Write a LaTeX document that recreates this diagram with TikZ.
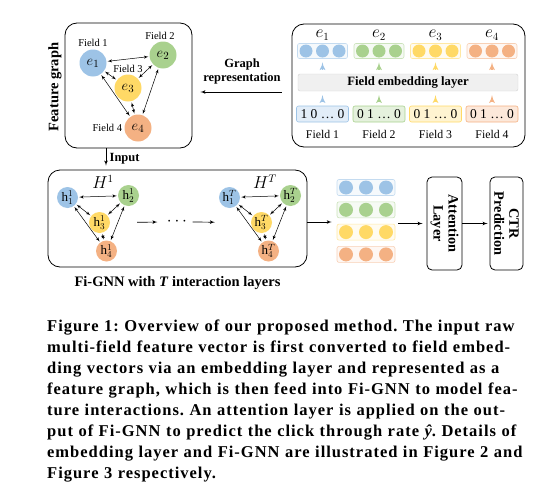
\documentclass[tikz,border=0pt]{standalone}
\usepackage{fontspec}
\setmainfont{Liberation Serif}
\newfontfamily\capfont{Liberation Serif}[LetterSpace=6]
\usetikzlibrary{positioning}
\usetikzlibrary{shapes, arrows}

\definecolor{fblue}{RGB}{157,195,230}
\definecolor{fgreen}{RGB}{169,209,142}
\definecolor{fyellow}{RGB}{255,217,102}
\definecolor{forange}{RGB}{244,177,131}

\begin{document}
\begin{tikzpicture}[x=1pt, y=-1pt, auto]
    \tikzstyle{panel} = [rectangle, draw, line width=0.8pt, rounded corners=12pt]
    \tikzstyle{field} = [circle, inner sep=0pt, minimum size=27pt, font=\fontsize{15}{15}\selectfont]
    \tikzstyle{hnode} = [circle, inner sep=0pt, minimum size=21pt, font=\fontsize{13}{13}\selectfont]
    \tikzstyle{ball} = [circle, inner sep=0pt, minimum size=13pt]
    \tikzstyle{vecbox} = [rectangle, draw, line width=0.6pt, rounded corners=2pt, minimum width=50pt, minimum height=15pt]
    \tikzstyle{onehot} = [rectangle, draw, line width=0.6pt, rounded corners=2pt, minimum width=52pt, minimum height=16pt, inner sep=0pt, font=\fontsize{13.5}{14}\selectfont]
    \tikzstyle{fieldname} = [inner sep=0pt, font=\fontsize{10.5}{10.5}\selectfont]
    \tikzstyle{heading} = [inner sep=0pt, align=center, font=\fontsize{14.5}{15}\selectfont\bfseries]
    \tikzstyle{stage} = [rectangle, draw, line width=0.8pt, rounded corners=5pt, align=center, inner sep=2pt, font=\fontsize{14.3}{15}\selectfont\bfseries]
    \tikzstyle{line} = [draw, -latex', line width=0.7pt]
    \tikzstyle{link} = [draw, latex'-latex', line width=0.5pt, shorten <=1pt, shorten >=1pt]
    \tikzstyle{feed} = [draw, -latex', line width=1.7pt]
    \useasboundingbox (0,0) rectangle (555,498);

    % feature graph
    \node [panel, minimum width=127pt, minimum height=125pt] (feat) at (128.5,85.5) {};
    \node [heading, rotate=90] (featname) at (55,87) {Feature graph};
    \node [field, fill=fblue] (e1) at (93,63) {$e_1$};
    \node [field, fill=fgreen] (e2) at (163,55) {$e_2$};
    \node [field, fill=fyellow] (e3) at (128,88) {$e_3$};
    \node [field, fill=forange] (e4) at (138,128) {$e_4$};
    \node [fieldname, above=2pt of e1] (f1) {Field 1};
    \node [fieldname, above=1pt of e2, xshift=-3pt] (f2) {Field 2};
    \node [fieldname, above=1pt of e3] (f3) {Field 3};
    \node [fieldname, left=2pt of e4] (f4) {Field 4};
    \foreach \a/\b in {e1/e2, e1/e3, e2/e3, e3/e4, e1/e4, e2/e4}
        \path [link] (\a) -- (\b);

    % field embedding
    \node [panel, minimum width=233pt, minimum height=123pt] (emb) at (408.5,85.5) {};
    \node [rectangle, draw=gray!35, fill=gray!12, rounded corners=2pt, minimum width=220pt, minimum height=17pt, inner sep=0pt, font=\fontsize{12.7}{13}\selectfont\bfseries] (layer) at (408,82.5) {Field embedding layer};
    \foreach \i/\x/\c/\bits in {1/322.5/fblue/{1 0 … 0}, 2/379/fgreen/{0 1 … 0}, 3/435.5/fyellow/{0 1 … 0}, 4/492/forange/{0 1 … 0}} {
        \node [vecbox, draw=\c!60, fill=\c!10] (v\i) at (\x,51) {};
        \node [ball, fill=\c] (m\i) at (v\i) {};
        \node [ball, fill=\c, left of=m\i, node distance=16.5pt] {};
        \node [ball, fill=\c, right of=m\i, node distance=16.5pt] {};
        \node [above=3pt of v\i, inner sep=0pt, font=\fontsize{16}{16}\selectfont] (lab\i) {$e_\i$};
        \node [onehot, draw=\c, fill=\c!30] (x\i) at (\x,114) {\bits};
        \node [fieldname, below=8pt of x\i, font=\fontsize{11.8}{12}\selectfont] (name\i) {Field \i};
        \path [feed, draw=\c, shorten <=4pt, shorten >=3.5pt] (v\i.south |- layer.north) -- (v\i.south);
        \path [feed, draw=\c, shorten <=4pt, shorten >=4pt] (x\i.north) -- (x\i.north |- layer.south);
    }
    \path [line, shorten <=10pt, shorten >=8pt] ([yshift=-6.5pt]emb.west) -- ([yshift=-6.5pt]feat.east)
        node [midway, above=7pt, heading, font=\fontsize{12.5}{14}\selectfont\bfseries] (repr) {Graph\\representation};

    % Fi-GNN
    \node [panel, minimum width=259pt, minimum height=97pt] (gnn) at (177.5,218.5) {};
    \path [line, shorten >=4pt] ([xshift=-22.5pt]feat.south) -- ([xshift=-22.5pt]feat.south |- gnn.north)
        node [midway, right, font=\fontsize{12.5}{13}\selectfont\bfseries] (inp) {Input};
    \foreach \s/\n/\k in {0/a/1, 162/b/T} {
        \node [hnode, fill=fblue] (\n1) at (67.5+\s,197.5) {$\mathrm{h}_1^{\k}$};
        \node [hnode, fill=fgreen] (\n2) at (128.5+\s,195.5) {$\mathrm{h}_2^{\k}$};
        \node [hnode, fill=fyellow] (\n3) at (99.5+\s,222.5) {$\mathrm{h}_3^{\k}$};
        \node [hnode, fill=forange] (\n4) at (106.5+\s,251) {$\mathrm{h}_4^{\k}$};
        \node [inner sep=0pt, font=\fontsize{16}{16}\selectfont] (H\n) at (103+\s,182) {$H^{\k}$};
        \foreach \p/\q in {1/2, 1/3, 2/3, 3/4, 1/4, 2/4}
            \path [link] (\n\p) -- (\n\q);
    }
    \node [font=\fontsize{16}{16}\selectfont] (dots) at (177,222) {$\cdots$};
    \path [line, shorten <=27pt, shorten >=6pt] (a3.east) -- (dots.west);
    \path [line, shorten <=2pt, shorten >=36pt] (dots.east) -- (b3.west);
    \node [heading, below=9pt of gnn] (gnnname) {Fi-GNN with \textit{T} interaction layers};

    % output side
    \foreach \i/\y/\c in {1/187.5/fblue, 2/209.8/fgreen, 3/232.1/fyellow, 4/254.4/forange} {
        \node [vecbox, minimum width=58pt, minimum height=16pt, draw=\c!60, fill=\c!10] (s\i) at (366,\y) {};
        \node [ball, minimum size=14pt, fill=\c] (n\i) at (s\i) {};
        \node [ball, minimum size=14pt, fill=\c, left of=n\i, node distance=20pt] {};
        \node [ball, minimum size=14pt, fill=\c, right of=n\i, node distance=20pt] {};
    }
    \node [stage, rotate=-90, minimum width=93pt, minimum height=35pt] (att) at (444.5,223.5) {Attention\\Layer};
    \node [stage, rotate=-90, minimum width=93pt, minimum height=33pt] (ctr) at (506.5,223.5) {CTR\\Prediction};
    \path [line, shorten >=5pt] ([yshift=-3.5pt]gnn.east) -- ([yshift=-3.5pt]gnn.east -| s1.west);
    \path [line, shorten <=3pt, shorten >=4pt] (s2.east |- att.south) -- (att.south);
    \path [line, shorten >=2pt] (att.north) -- (ctr.south);

    % caption
    \node [anchor=north west, inner sep=0pt, text width=486pt, align=left, font=\capfont\fontsize{16.5}{21}\selectfont\bfseries\frenchspacing] (caption) at (47,320) {%
        \makebox[486pt][s]{Figure 1: Overview of our proposed method. The input raw}\\
        \makebox[486pt][s]{multi-field feature vector is first converted to field embed-}\\
        \makebox[486pt][s]{ding vectors via an embedding layer and represented as a}\\
        \makebox[486pt][s]{feature graph, which is then feed into Fi-GNN to model fea-}\\
        \makebox[486pt][s]{ture interactions. An attention layer is applied on the out-}\\
        \makebox[486pt][s]{put of Fi-GNN to predict the click through rate \textit{ŷ}. Details of}\\
        \makebox[486pt][s]{embedding layer and Fi-GNN are illustrated in Figure 2 and}\\
        Figure 3 respectively.};
\end{tikzpicture}
\end{document}
